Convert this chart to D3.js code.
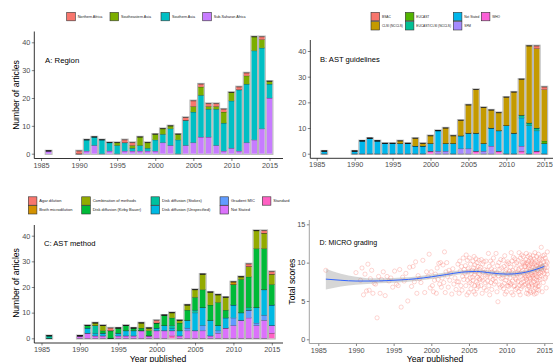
<!DOCTYPE html>
<html>
<head>
<meta charset="utf-8">
<script src="https://cdn.jsdelivr.net/npm/d3@7/dist/d3.min.js"></script>
<style>
  body { margin: 0; background: #fff; }
  svg { display: block; font-family: "Liberation Sans", Arial, sans-serif; }
</style>
</head>
<body>
<svg id="chart" width="553" height="362"></svg>
<script>
// ---- data ----
const years = [1986, 1990, 1991, 1992, 1993, 1994, 1995, 1996, 1997, 1998, 1999, 2000, 2001, 2002,
  2003, 2004, 2005, 2006, 2007, 2008, 2009, 2010, 2011, 2012, 2013, 2014, 2015];

// A: region
const northernAfrica   = [0,1,0,0,0,0,0,1,1,0,0,0,0,0,0,1,2,1,1,1,1,0,1,1,0,1,0];
const southeasternAsia = [0,0,0,0,0,0,1,0,1,3,2,2,2,1,2,0,2,3,1,1,4,3,0,3,5,3,1];
const southernAsia     = [0,0,4,3,5,3,3,3,1,2,1,4,3,6,5,9,11,15,10,13,10,17,22,21,32,29,5];
const subSaharanAfrica = [1,0,1,3,0,1,0,1,1,1,1,1,4,3,0,3,4,6,6,3,1,2,1,4,5,9,20];

// B: AST guidelines
const bsac        = [0,0,0,0,0,0,0,0,0,0,0,0,0,0,0,0,0,0,0,0,0,0,0,0,0,1,1];
const clsi        = [0,0,0,0,0,0,0,1,0,3,1,3,0,6,3,6,11,17,14,7,7,11,16,14,30,31,20];
const eucast      = [0,0,0,0,0,0,0,0,0,0,0,0,0,0,0,0,0,0,0,0,0,0,0,0,0,0,1];
const eucastClsi  = [0,0,0,0,0,0,0,0,0,0,0,0,0,0,0,0,0,0,0,0,0,0,0,1,1,1,0];
const notStatedB  = [1,1,5,6,5,4,4,4,4,3,3,3,8,3,4,5,6,7,3,7,8,11,8,11,11,8,4];
const sfm         = [0,0,0,0,0,0,0,0,0,0,0,0,1,1,0,2,2,0,1,3,0,0,0,2,0,0,0];
const who         = [0,0,0,0,0,0,0,0,0,0,0,1,0,0,0,0,0,1,0,0,1,0,0,1,0,1,0];

// C: AST method
const agarDilution  = [0,0,0,0,0,1,0,0,0,0,0,1,0,0,0,0,0,0,0,0,0,0,0,1,0,1,1];
const brothMicro    = [0,0,0,0,0,0,0,0,0,0,0,0,0,0,0,0,0,0,0,0,0,1,0,0,0,0,0];
const combination   = [0,0,0,1,2,0,0,0,0,2,1,0,0,2,1,2,3,6,5,3,5,0,1,4,7,6,4];
const kirbyBauer    = [0,0,1,0,1,3,2,2,1,1,2,2,4,3,3,4,5,7,6,9,3,8,13,12,23,16,8];
const stokes        = [1,0,0,3,0,0,0,0,0,0,0,0,0,1,0,0,1,0,0,0,0,0,0,1,0,0,0];
const unspecified   = [0,0,2,1,1,0,1,2,2,0,0,1,2,1,2,3,7,7,6,2,4,5,3,0,6,10,8];
const gradientMic   = [0,0,0,0,0,0,0,0,0,0,0,0,0,0,0,1,0,2,0,1,0,3,0,3,1,2,0];
const notStatedC    = [0,1,2,1,1,0,1,1,1,3,1,3,3,2,1,3,3,3,1,2,4,5,7,8,5,7,3];
const standard      = [0,0,0,0,0,0,0,0,0,0,0,0,0,1,0,0,0,0,0,0,0,0,0,0,0,0,2];

// D: MICRO grading, total score of each article by year published
const scoreYears = years;
const scores = [
  [9.0],
  [8.7],
  [7.7, 9.3, 5.8, 8.5, 6.3],
  [9.8, 6.4, 7.9, 9.0, 6.0, 7.3],
  [7.2, 2.8, 8.2, 6.0, 7.8],
  [8.8, 5.7, 8.2, 7.6],
  [8.0, 6.8, 8.9, 7.2],
  [7.0, 9.1, 4.2, 8.1, 7.6],
  [8.6, 5.0, 9.4, 6.9],
  [9.5, 7.5, 10.1, 6.0, 8.3, 7.9],
  [7.4, 10.3, 6.1, 8.8],
  [8.2, 11.1, 6.7, 8.8, 7.0, 6.2, 7.7],
  [8.5, 6.0, 9.3, 7.8, 9.9, 7.2, 10.0, 6.8, 8.0],
  [9.7, 7.4, 11.4, 6.1, 8.8, 10.0, 8.2, 6.8, 9.0, 7.7],
  [8.6, 5.9, 9.2, 7.2, 8.0, 6.5, 7.5],
  [9.8, 7.5, 6.0, 10.2, 8.9, 7.0, 9.5, 6.4, 8.2, 10.6, 7.8, 9.1, 8.6],
  [9.6, 7.0, 11.0, 8.3, 5.8, 10.3, 7.7, 9.2, 6.1, 8.9, 10.6, 7.4, 8.0, 9.8, 6.6, 8.6, 7.2, 9.0, 8.1],
  [10.2, 7.7, 9.3, 6.2, 10.8, 8.4, 7.0, 9.7, 5.9, 8.8, 10.5, 7.5, 9.0, 6.6, 10.0, 8.1, 7.2, 9.5, 6.9, 8.6, 10.3, 7.9, 9.1, 8.5, 7.8],
  [9.4, 7.0, 10.4, 8.0, 6.0, 9.8, 7.7, 8.7, 10.1, 6.7, 9.1, 7.4, 8.4, 10.2, 6.4, 9.0, 8.2, 7.6],
  [8.5, 11.2, 7.0, 9.5, 5.8, 8.1, 10.2, 7.4, 9.2, 6.5, 8.8, 9.9, 7.8, 10.6, 8.3, 7.2, 9.0, 8.0],
  [7.5, 11.2, 8.7, 6.2, 9.6, 4.9, 8.3, 10.0, 7.1, 9.1, 6.8, 10.4, 7.9, 9.3, 7.0, 8.0],
  [8.4, 10.3, 6.6, 9.5, 7.3, 10.9, 5.9, 8.8, 7.7, 9.1, 6.2, 9.8, 8.1, 7.0, 10.1, 8.6, 6.9, 9.9, 7.4, 8.9, 8.0, 7.1],
  [9.4, 7.3, 11.3, 6.1, 8.7, 10.2, 7.6, 9.0, 5.8, 10.7, 8.3, 6.9, 9.8, 7.0, 10.5, 8.0, 6.5, 9.2, 7.8, 10.0, 8.5, 6.7, 8.8, 7.5],
  [10.3, 7.6, 9.1, 6.2, 11.3, 8.5, 7.0, 9.7, 5.8, 10.6, 8.2, 6.6, 9.4, 7.3, 11.0, 8.8, 6.9, 10.0, 7.9, 9.0, 10.8, 7.5, 8.6, 10.1, 7.1, 9.5, 8.0, 9.8, 8.3],
  [9.5, 7.2, 10.4, 8.1, 11.2, 6.0, 9.0, 7.8, 10.0, 8.6, 6.5, 9.8, 7.4, 10.8, 8.3, 5.9, 9.3, 7.0, 10.2, 8.8, 6.8, 9.6, 7.6, 11.0, 8.0, 6.3, 9.1, 10.6, 7.9, 8.5, 6.1, 9.9, 7.3, 10.3, 8.7, 9.4, 6.9, 10.1, 8.2, 7.1, 9.7, 8.4],
  [10.9, 8.0, 6.2, 9.4, 7.5, 10.5, 8.8, 5.9, 9.9, 7.9, 11.3, 8.4, 6.7, 9.2, 7.1, 10.2, 8.6, 6.0, 9.6, 7.7, 10.8, 8.2, 6.5, 9.0, 7.3, 10.0, 8.9, 6.9, 9.7, 7.6, 11.1, 8.5, 6.4, 9.3, 7.0, 10.4, 8.1, 9.8, 7.8, 10.6, 8.7, 9.5],
  [9.8, 8.3, 12.0, 9.1, 10.4, 6.2, 8.8, 9.5, 10.9, 7.4, 9.0, 10.1, 8.6, 11.0, 9.3, 7.9, 10.6, 8.1, 9.7, 6.7, 10.2, 8.9, 9.4, 11.4, 8.5, 10.0]
];

// loess fit
const smoothX  = [1986, 1988, 1990, 1992, 1994, 1996, 1998, 2000, 2002, 2004, 2006, 2008, 2010, 2012, 2014, 2015];
const smoothY  = [7.85, 7.7, 7.6, 7.6, 7.65, 7.75, 7.9, 8.15, 8.45, 8.75, 8.85, 8.65, 8.5, 8.65, 9.15, 9.5];
const smoothLo = [6.5, 6.9, 7.1, 7.25, 7.35, 7.45, 7.6, 7.85, 8.15, 8.5, 8.6, 8.35, 8.2, 8.4, 8.85, 9.0];
const smoothHi = [9.2, 8.55, 8.15, 7.95, 7.95, 8.05, 8.2, 8.45, 8.75, 9.0, 9.1, 8.95, 8.8, 8.9, 9.45, 10.0];

const xTicks = [1985, 1990, 1995, 2000, 2005, 2010, 2015];
const countTicks = [0, 10, 20, 30, 40];
const scoreTicks = [0, 5, 10, 15];

const svg = d3.select('#chart');

// ---- helpers ----
function drawAxes(g, x, y, yTicks, box, lineColor) {
  const xa = g.append('g')
    .attr('transform', 'translate(0,' + box.bottom + ')')
    .call(d3.axisBottom(x).tickValues(xTicks).tickFormat(d3.format('d')).tickSize(2.5).tickPadding(1.5));
  const ya = g.append('g')
    .attr('transform', 'translate(' + box.left + ',0)')
    .call(d3.axisLeft(y).tickValues(yTicks).tickSize(2.5).tickPadding(1.5));
  [xa, ya].forEach(a => {
    a.select('.domain').remove();
    a.selectAll('line').attr('stroke', '#333').attr('stroke-width', 0.6);
    a.selectAll('text').attr('font-size', '7.3px').attr('fill', '#4d4d4d')
      .attr('font-family', '"Liberation Sans", Arial, sans-serif');
  });
  g.append('line').attr('x1', box.left).attr('x2', box.right)
    .attr('y1', box.bottom).attr('y2', box.bottom)
    .attr('stroke', lineColor).attr('stroke-width', 0.8);
  g.append('line').attr('x1', box.left).attr('x2', box.left)
    .attr('y1', box.top).attr('y2', box.bottom)
    .attr('stroke', lineColor).attr('stroke-width', 0.8);
}

function drawStacked(g, x, y, keys, cols, table) {
  // keys ordered bottom -> top
  const series = d3.stack().keys(keys)(table);
  const half = 0.36;
  const totals = table.map(r => d3.sum(keys, k => r[k]));

  g.selectAll('.bar-outline')
    .data(table)
    .enter()
    .append('rect')
    .attr('class', 'bar-outline')
    .attr('x', d => x(d.year - half) - 0.6)
    .attr('width', d => x(d.year + half) - x(d.year - half) + 1.2)
    .attr('y', (d, i) => y(totals[i]) - 0.6)
    .attr('height', (d, i) => y(0) - y(totals[i]) + 1.2)
    .attr('fill', 'none')
    .attr('stroke', '#b8b8b8')
    .attr('stroke-width', 1.2);

  series.forEach(s => {
    const layer = g.append('g');
    layer.selectAll('rect')
      .data(s)
      .enter()
      .append('rect')
      .attr('x', d => x(d.data.year - half))
      .attr('width', d => x(d.data.year + half) - x(d.data.year - half))
      .attr('y', d => y(d[1]))
      .attr('height', d => y(d[0]) - y(d[1]))
      .attr('fill', cols[s.key]);
    layer.selectAll('line')
      .data(s)
      .enter()
      .append('line')
      .attr('x1', d => x(d.data.year - half))
      .attr('x2', d => x(d.data.year + half))
      .attr('y1', d => y(d[1]))
      .attr('y2', d => y(d[1]))
      .attr('stroke', '#1a1a1a')
      .attr('stroke-width', 0.6);
  });
}

function drawLegend(items, fontSize) {
  items.forEach(it => {
    svg.append('rect')
      .attr('x', it.x).attr('y', it.y)
      .attr('width', 8.6).attr('height', 8.4)
      .attr('fill', it.color)
      .attr('stroke', '#333').attr('stroke-width', 0.6);
    svg.append('text')
      .attr('x', it.x + 11).attr('y', it.y + 4.2)
      .attr('dy', '0.35em')
      .attr('font-size', fontSize + 'px')
      .attr('fill', '#1a1a1a')
      .text(it.label);
  });
}

function label(txt, x, y, size, opts) {
  const t = svg.append('text').attr('x', x).attr('y', y)
    .attr('font-size', size + 'px').attr('fill', '#000').text(txt);
  if (opts && opts.anchor) t.attr('text-anchor', opts.anchor);
  if (opts && opts.rotate) t.attr('transform', 'rotate(-90,' + x + ',' + y + ')');
  return t;
}

// ---- panel A: region ----
const tableA = years.map((yr, i) => ({
  year: yr,
  subSaharanAfrica: subSaharanAfrica[i],
  southernAsia: southernAsia[i],
  southeasternAsia: southeasternAsia[i],
  northernAfrica: northernAfrica[i]
}));
const colsA = { northernAfrica: '#F8766D', southeasternAsia: '#7CAE00', southernAsia: '#00BFC4', subSaharanAfrica: '#C77CFF' };
const xA = d3.scaleLinear().domain([1985, 2015]).range([41, 269.5]);
const yA = d3.scaleLinear().domain([0, 40]).range([153.7, 42.3]);
const gA = svg.append('g');
drawStacked(gA, xA, yA, ['subSaharanAfrica', 'southernAsia', 'southeasternAsia', 'northernAfrica'], colsA, tableA);
drawAxes(gA, xA, yA, countTicks, { left: 34.3, right: 283, top: 31.5, bottom: 158.5 }, '#000');
label('A: Region', 45, 62.5, 7.8);
label('Number of articles', 19.3, 95, 8.6, { anchor: 'middle', rotate: true });
drawLegend([
  { x: 66.7, y: 12.4, color: colsA.northernAfrica, label: 'Northern Africa' },
  { x: 110, y: 12.4, color: colsA.southeasternAsia, label: 'Southeastern Asia' },
  { x: 161, y: 12.4, color: colsA.southernAsia, label: 'Southern Asia' },
  { x: 202.7, y: 12.4, color: colsA.subSaharanAfrica, label: 'Sub-Saharan Africa' }
], 3.7);

// ---- panel B: AST guidelines ----
const tableB = years.map((yr, i) => ({
  year: yr, who: who[i], sfm: sfm[i], notStated: notStatedB[i], eucastClsi: eucastClsi[i],
  eucast: eucast[i], clsi: clsi[i], bsac: bsac[i]
}));
const colsB = { bsac: '#F8766D', clsi: '#C49A00', eucast: '#53B400', eucastClsi: '#00C094',
  notStated: '#00B6EB', sfm: '#A58AFF', who: '#FB61D7' };
const xB = d3.scaleLinear().domain([1985, 2015]).range([316.7, 544.3]);
const yB = d3.scaleLinear().domain([0, 40]).range([153.7, 51]);
const gB = svg.append('g');
drawStacked(gB, xB, yB, ['who', 'sfm', 'notStated', 'eucastClsi', 'eucast', 'clsi', 'bsac'], colsB, tableB);
drawAxes(gB, xB, yB, countTicks, { left: 310.3, right: 553, top: 40, bottom: 158.3 }, '#000');
label('B: AST guidelines', 320, 62, 7.6);
drawLegend([
  { x: 371, y: 12.4, color: colsB.bsac, label: 'BSAC' },
  { x: 371, y: 21.6, color: colsB.clsi, label: 'CLSI (NCCLS)' },
  { x: 405.3, y: 12.4, color: colsB.eucast, label: 'EUCAST' },
  { x: 405.3, y: 21.6, color: colsB.eucastClsi, label: 'EUCAST/CLSI (NCCLS)' },
  { x: 453.3, y: 12.4, color: colsB.notStated, label: 'Not Stated' },
  { x: 453.3, y: 21.6, color: colsB.sfm, label: 'SFM' },
  { x: 481.3, y: 12.4, color: colsB.who, label: 'WHO' }
], 3.2);

// ---- panel C: AST method ----
const tableC = years.map((yr, i) => ({
  year: yr, standard: standard[i], notStated: notStatedC[i], gradientMic: gradientMic[i],
  unspecified: unspecified[i], stokes: stokes[i], kirbyBauer: kirbyBauer[i],
  combination: combination[i], brothMicro: brothMicro[i], agarDilution: agarDilution[i]
}));
const colsC = { agarDilution: '#F8766D', brothMicro: '#D39200', combination: '#93AA00', kirbyBauer: '#00BA38',
  stokes: '#00C19F', unspecified: '#00B9E3', gradientMic: '#619CFF', notStated: '#DB72FB', standard: '#FF61C3' };
const xC = d3.scaleLinear().domain([1985, 2015]).range([41.5, 271.8]);
const yC = d3.scaleLinear().domain([0, 40]).range([338.3, 235.7]);
const gC = svg.append('g');
drawStacked(gC, xC, yC, ['standard', 'notStated', 'gradientMic', 'unspecified', 'stokes', 'kirbyBauer',
  'combination', 'brothMicro', 'agarDilution'], colsC, tableC);
drawAxes(gC, xC, yC, countTicks, { left: 34.3, right: 283, top: 225, bottom: 343 }, '#000');
label('C: AST method', 44, 246, 7.6);
label('Number of articles', 19.3, 283, 8.6, { anchor: 'middle', rotate: true });
label('Year published', 158, 361.5, 8.6, { anchor: 'middle' });
drawLegend([
  { x: 28.3, y: 196.8, color: colsC.agarDilution, label: 'Agar dilution' },
  { x: 28.3, y: 205.6, color: colsC.brothMicro, label: 'Broth microdilution' },
  { x: 81.7, y: 196.8, color: colsC.combination, label: 'Combination of methods' },
  { x: 81.7, y: 205.6, color: colsC.kirbyBauer, label: 'Disk diffusion (Kirby Bauer)' },
  { x: 151, y: 196.8, color: colsC.stokes, label: 'Disk diffusion (Stokes)' },
  { x: 151, y: 205.6, color: colsC.unspecified, label: 'Disk diffusion (Unspecified)' },
  { x: 220, y: 196.8, color: colsC.gradientMic, label: 'Gradient MIC' },
  { x: 220, y: 205.6, color: colsC.notStated, label: 'Not Stated' },
  { x: 262.3, y: 196.8, color: colsC.standard, label: 'Standard' }
], 4);

// ---- panel D: MICRO grading ----
const xD = d3.scaleLinear().domain([1985, 2015]).range([318.3, 544.3]);
const yD = d3.scaleLinear().domain([0, 15]).range([339.3, 224.3]);
const gD = svg.append('g');

const points = [];
scoreYears.forEach((yr, i) => {
  const n = scores[i].length;
  scores[i].forEach((s, j) => {
    // spread the articles of one year across that year
    const pos = yr === 1986 ? yr : yr - 0.5 + (j + 0.5) / n;
    points.push({ x: Math.min(pos, 2015.4), y: s });
  });
});

gD.selectAll('circle')
  .data(points)
  .enter()
  .append('circle')
  .attr('cx', d => xD(d.x))
  .attr('cy', d => yD(d.y))
  .attr('r', 2.1)
  .attr('fill', 'none')
  .attr('stroke', '#F8766D')
  .attr('stroke-opacity', 0.5)
  .attr('stroke-width', 0.6);

const smooth = smoothX.map((v, i) => ({ x: v, y: smoothY[i], lo: smoothLo[i], hi: smoothHi[i] }));
gD.append('path')
  .datum(smooth)
  .attr('d', d3.area().curve(d3.curveMonotoneX).x(d => xD(d.x)).y0(d => yD(d.lo)).y1(d => yD(d.hi)))
  .attr('fill', '#999')
  .attr('fill-opacity', 0.4);
gD.append('path')
  .datum(smooth)
  .attr('d', d3.line().curve(d3.curveMonotoneX).x(d => xD(d.x)).y(d => yD(d.y)))
  .attr('fill', 'none')
  .attr('stroke', '#3366FF')
  .attr('stroke-width', 1);

drawAxes(gD, xD, yD, scoreTicks, { left: 309.3, right: 553, top: 220, bottom: 343.5 }, '#8c8c8c');
label('D: MICRO grading', 319.5, 245, 7);
label('Total scores', 295.5, 281.7, 8.6, { anchor: 'middle', rotate: true });
label('Year published', 435, 361.5, 8.6, { anchor: 'middle' });
</script>
</body>
</html>
